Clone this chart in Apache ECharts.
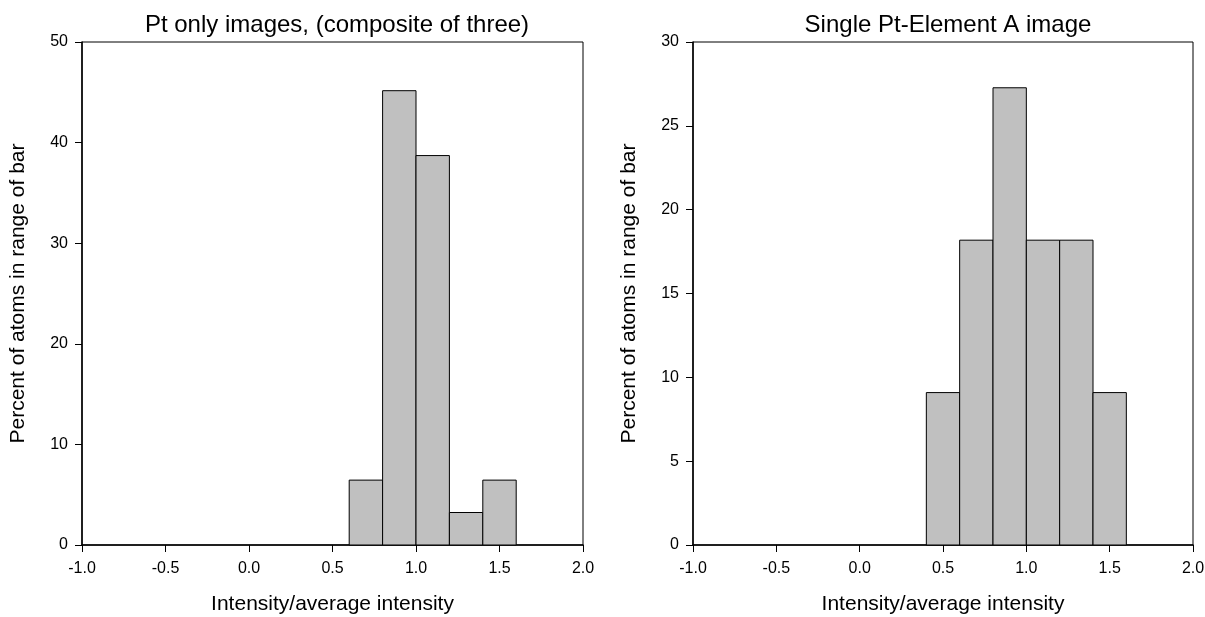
<!DOCTYPE html>
<html>
<head>
<meta charset="utf-8">
<script src="https://cdn.jsdelivr.net/npm/echarts@6/dist/echarts.min.js"></script>
<style>
  html, body { margin: 0; padding: 0; background: #fff; }
  #chart { width: 1205px; height: 617px; }
</style>
</head>
<body>
<div id="chart"></div>
<script>
// bin edges and percentages
const leftBins = [[0.6, 0.8], [0.8, 1.0], [1.0, 1.2], [1.2, 1.4], [1.4, 1.6]]
const leftValues = [6.45, 45.16, 38.71, 3.23, 6.45]
const rightBins = [[0.4, 0.6], [0.6, 0.8], [0.8, 1.0], [1.0, 1.2], [1.2, 1.4], [1.4, 1.6]]
const rightValues = [9.09, 18.18, 27.27, 18.18, 18.18, 9.09]
const titles = ['Pt only images, (composite of three)', 'Single Pt-Element A image']
const xName = 'Intensity/average intensity'
const yName = 'Percent of atoms in range of bar'

const font = 'Liberation Sans, Arial, sans-serif'
const chart = echarts.init(document.getElementById('chart'))

function toData(bins, values) {
  return bins.map((b, i) => [b[0], b[1], values[i]])
}

// one rect per bin, corners taken from the axes
function renderBar(params, api) {
  const p0 = api.coord([api.value(0), api.value(2)])
  const p1 = api.coord([api.value(1), 0])
  return {
    type: 'rect',
    shape: { x: p0[0], y: p0[1], width: p1[0] - p0[0], height: p1[1] - p0[1] },
    style: { fill: '#c0c0c0', stroke: '#000', lineWidth: 1 }
  }
}

function xAxis(idx) {
  return {
    type: 'value', gridIndex: idx, min: -1, max: 2, interval: 0.5,
    name: xName, nameLocation: 'middle', nameGap: 49,
    nameTextStyle: { color: '#000', fontSize: 21, fontFamily: font },
    axisLine: { onZero: false, lineStyle: { color: '#000', width: 1.5 } },
    axisTick: { length: 7, lineStyle: { color: '#000' } },
    axisLabel: { color: '#000', fontSize: 16, fontFamily: font, margin: 16, formatter: v => v.toFixed(1) },
    splitLine: { show: false }
  }
}

function yAxis(idx, max, interval) {
  return {
    type: 'value', gridIndex: idx, min: 0, max: max, interval: interval,
    name: yName, nameLocation: 'middle', nameGap: 53,
    nameTextStyle: { color: '#000', fontSize: 21, fontFamily: font },
    axisLine: { show: true, onZero: false, lineStyle: { color: '#000', width: 1.5 } },
    axisTick: { show: true, length: 7, lineStyle: { color: '#000' } },
    axisLabel: { color: '#000', fontSize: 16, fontFamily: font, margin: 14 },
    splitLine: { show: false }
  }
}

const titleStyle = { color: '#000', fontSize: 24, fontWeight: 'normal', fontFamily: font }

const option = {
  animation: false,
  backgroundColor: '#fff',
  title: [
    { text: titles[0], left: 332, textAlign: 'center', top: 8, textStyle: titleStyle },
    { text: titles[1], left: 943, textAlign: 'center', top: 8, textStyle: titleStyle }
  ],
  grid: [
    { left: 82, top: 42, width: 501, height: 503, outerBoundsMode: 'none', containLabel: false, show: true, borderColor: '#000', borderWidth: 1 },
    { left: 693, top: 42, width: 500, height: 503, outerBoundsMode: 'none', containLabel: false, show: true, borderColor: '#000', borderWidth: 1 }
  ],
  xAxis: [xAxis(0), xAxis(1)],
  yAxis: [yAxis(0, 50, 10), yAxis(1, 30, 5)],
  series: [
    { type: 'custom', xAxisIndex: 0, yAxisIndex: 0, renderItem: renderBar, encode: { x: [0, 1], y: 2 }, data: toData(leftBins, leftValues) },
    { type: 'custom', xAxisIndex: 1, yAxisIndex: 1, renderItem: renderBar, encode: { x: [0, 1], y: 2 }, data: toData(rightBins, rightValues) }
  ]
}

chart.setOption(option)
</script>
</body>
</html>
